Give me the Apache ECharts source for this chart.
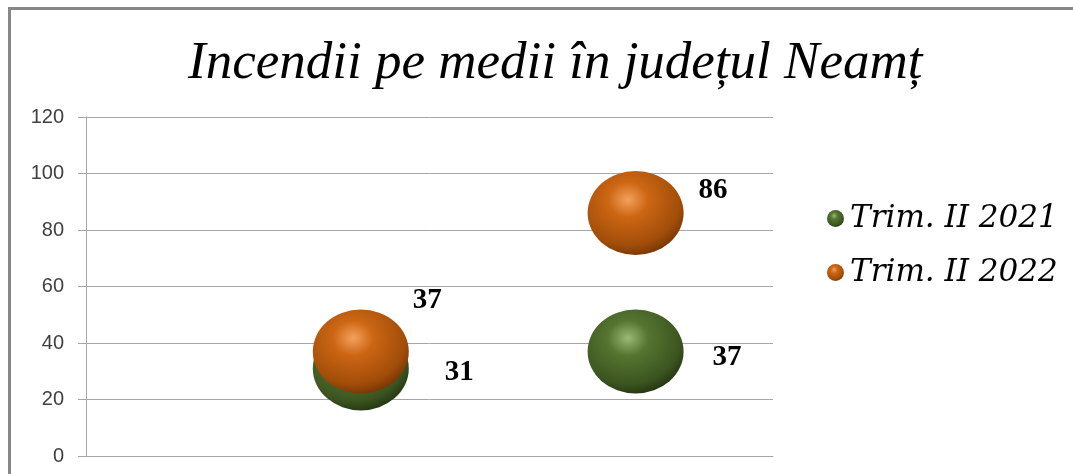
<!DOCTYPE html>
<html>
<head>
<meta charset="utf-8">
<script src="https://cdn.jsdelivr.net/npm/echarts@6/dist/echarts.min.js"></script>
<style>
    html, body {
        margin: 0;
        padding: 0;
        background: #fff;
        overflow: hidden;
    }

    #chart {
        position: absolute;
        left: 0;
        top: 0;
        width: 1073px;
        height: 474px;
    }

    /* outer frame, right and bottom edges fall outside the picture */
    .frame {
        position: absolute;
        left: 8px;
        top: 7px;
        width: 1200px;
        height: 600px;
        border-left: 3px solid #878787;
        border-top: 3px solid #878787;
        pointer-events: none;
    }
</style>
</head>
<body>
<div id="chart"></div>
<div class="frame"></div>
<script>
    var titleText = 'Incendii pe medii în județul Neamț';
    var seriesNames = ['Trim. II 2021', 'Trim. II 2022'];
    // x position of each group of bubbles
    var xPositions = [1, 2];
    var values2021 = [31, 37];
    var values2022 = [37, 86];
    var yTicks = [0, 20, 40, 60, 80, 100, 120];

    // label nudges, per point (style only)
    var labelShift2021 = [[36, 4], [29, 6]];
    var labelShift2022 = [[4, -51], [15, -23]];

    function sphere(light, mid, dark, edge) {
        return {
            type: 'radial',
            x: 0.42, y: 0.34, r: 0.7,
            colorStops: [
                {offset: 0, color: light},
                {offset: 0.3, color: mid},
                {offset: 0.78, color: dark},
                {offset: 1, color: edge}
            ]
        };
    }

    var green = sphere('#9cb877', '#557530', '#3c5520', '#223210');
    var orange = sphere('#f5a05c', '#cc6614', '#a14d09', '#723404');

    function buildData(values, shifts) {
        return values.map(function (v, i) {
            return {
                value: [xPositions[i], v],
                label: {offset: shifts[i]}
            };
        });
    }

    var labelStyle = {
        show: true,
        position: 'right',
        distance: 0,
        fontFamily: 'Liberation Serif',
        fontWeight: 'bold',
        fontSize: 29,
        color: '#000',
        formatter: function (p) { return p.value[1]; }
    };

    var chart = echarts.init(document.getElementById('chart'));

    chart.setOption({
        animation: false,
        title: {
            text: titleText,
            left: 183,
            top: 33,
            textStyle: {
                fontFamily: 'Liberation Serif',
                fontStyle: 'italic',
                fontWeight: 'normal',
                fontSize: 53,
                color: '#000'
            }
        },
        legend: {
            orient: 'vertical',
            left: 822,
            top: 198,
            itemWidth: 19,
            itemHeight: 17,
            itemGap: 23,
            icon: 'circle',
            data: seriesNames,
            textStyle: {
                fontFamily: 'DejaVu Serif',
                fontStyle: 'italic',
                fontSize: 31,
                color: '#000'
            }
        },
        grid: {
            left: 86,
            right: 300,
            top: 117,
            bottom: 18
        },
        xAxis: {
            type: 'value',
            min: 0,
            max: 2.5,
            axisLine: {show: true, lineStyle: {color: '#a6a6a6', width: 1}},
            axisTick: {show: false},
            axisLabel: {show: false},
            splitLine: {show: false}
        },
        yAxis: {
            type: 'value',
            min: yTicks[0],
            max: yTicks[yTicks.length - 1],
            interval: 20,
            axisLine: {show: true, lineStyle: {color: '#a6a6a6', width: 1}},
            axisTick: {show: true, length: 8, lineStyle: {color: '#a6a6a6'}},
            axisLabel: {
                margin: 22,
                fontFamily: 'Liberation Sans',
                fontSize: 20,
                color: '#404040'
            },
            splitLine: {show: true, lineStyle: {color: '#a6a6a6', width: 1}}
        },
        series: [{
            name: seriesNames[0],
            type: 'scatter',
            symbolSize: [96, 84],
            itemStyle: {color: green, opacity: 1},
            label: labelStyle,
            data: buildData(values2021, labelShift2021)
        }, {
            name: seriesNames[1],
            type: 'scatter',
            symbolSize: [96, 84],
            itemStyle: {color: orange, opacity: 1},
            label: labelStyle,
            data: buildData(values2022, labelShift2022)
        }]
    });
</script>
</body>
</html>
